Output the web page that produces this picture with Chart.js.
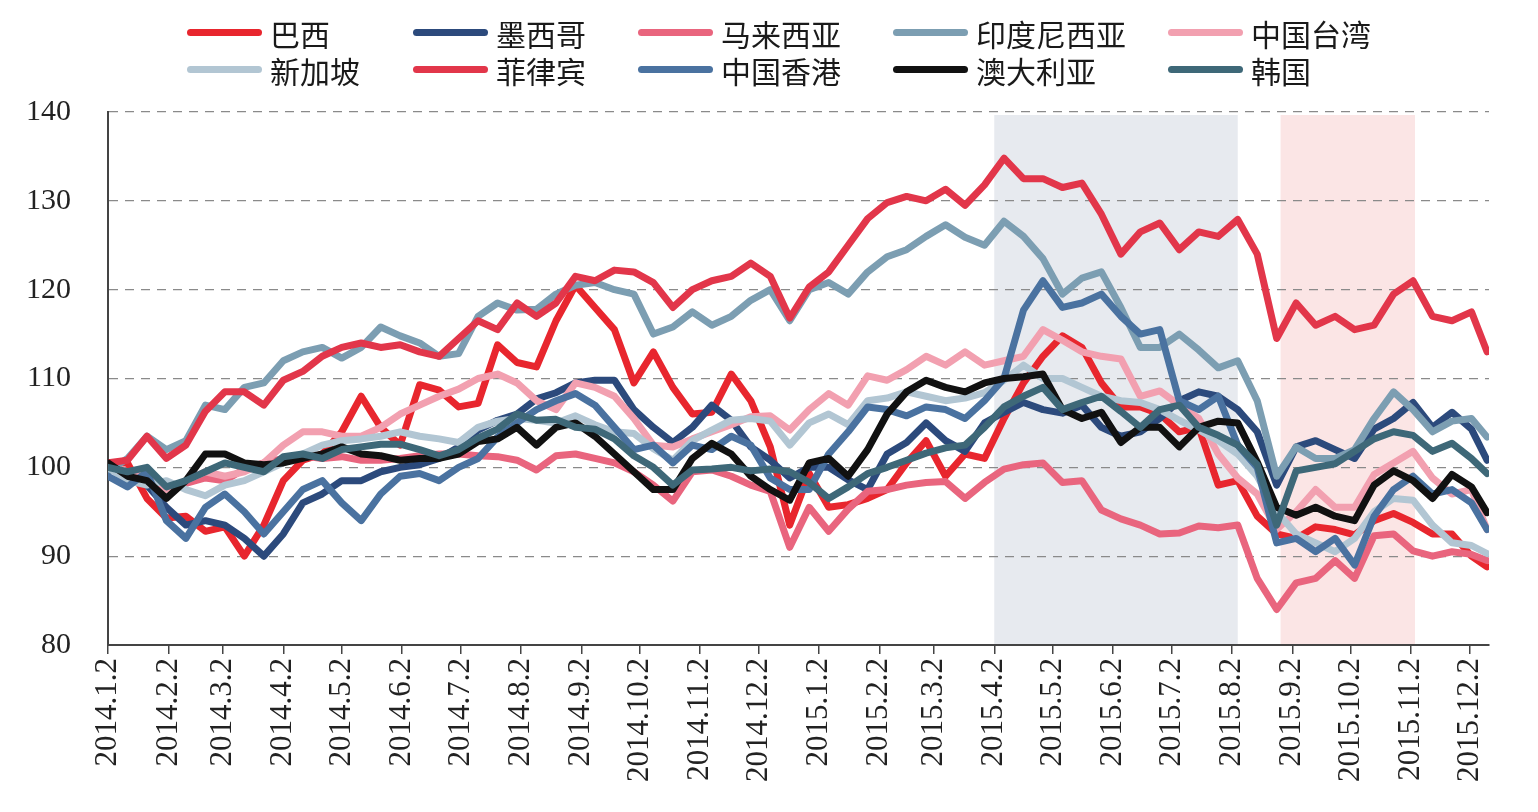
<!DOCTYPE html>
<html>
<head>
<meta charset="utf-8">
<script src="https://cdn.jsdelivr.net/npm/chart.js@4.4.1/dist/chart.umd.min.js"></script>
<style>
  html, body { margin: 0; padding: 0; background: #fff; }
  #wrap { position: relative; width: 1538px; height: 812px; overflow: hidden; }
  #chart { position: absolute; left: 0; top: 0; }
  #legend {
    position: absolute; left: 187px; top: 14px;
    display: grid; grid-template-columns: 226px 225px 255px 275px 220px;
    font-family: "Noto Sans CJK SC", sans-serif; font-size: 30px; color: #1a1a1a;
  }
  .item { display: flex; align-items: center; height: 37px; white-space: nowrap; }
  .swatch { width: 75px; height: 7px; border-radius: 4px; margin-right: 8px; }
</style>
</head>
<body>
<div id="wrap">
  <canvas id="chart" width="1538" height="812"></canvas>
  <div id="legend"></div>
</div>
<script>
// days since 2014.1.2 for each sampled reading
var dayOffsets = [0,10,20,30,40,50,60,70,80,90,100,110,120,130,140,150,160,170,180,190,
  200,210,220,230,240,250,260,270,280,290,300,310,320,330,340,350,360,370,380,390,
  400,410,420,430,440,450,460,470,480,490,500,510,520,530,540,550,560,570,580,590,
  600,610,620,630,640,650,660,670,680,690,700,708];

var tickLabels = ['2014.1.2','2014.2.2','2014.3.2','2014.4.2','2014.5.2','2014.6.2','2014.7.2','2014.8.2',
  '2014.9.2','2014.10.2','2014.11.2','2014.12.2','2015.1.2','2015.2.2','2015.3.2','2015.4.2','2015.5.2',
  '2015.6.2','2015.7.2','2015.8.2','2015.9.2','2015.10.2','2015.11.2','2015.12.2'];

var seriesNames = ['巴西','墨西哥','马来西亚','印度尼西亚','中国台湾','新加坡','菲律宾','中国香港','澳大利亚','韩国'];
var seriesColors = ['#E8262E','#2C4A7C','#E9657E','#7C9EB2','#F2A0B0','#B2C6D3','#E2364A','#4A72A0','#111111','#3E6878'];

var brazil = [100.5,100.5,96.5,94.3,94.5,92.8,93.3,90,93.5,98.5,
  100.8,101.5,104,108,104.5,102.5,109.3,108.7,106.8,107.2,
  113.8,111.8,111.3,116.5,120.5,118,115.5,109.5,113,109,
  106,106.2,110.5,107.5,102.3,93.5,99.3,95.5,95.8,96.5,
  97.5,100.5,103,99,101.5,101,105.5,109.5,112.5,114.8,
  113.5,109.5,106.8,106.8,106,104,104.5,98,98.5,94.5,
  92.5,92,93.3,93,92.4,94,94.8,93.8,92.5,92.5,
  90,88.8];
var mexico = [100,99,98,95.5,93.5,94,93.5,92,90,92.5,
  96,97,98.5,98.5,99.5,100,100.3,101,102.3,104.2,
  105.3,106,107.7,108.4,109.5,109.8,109.8,106.5,104.5,102.8,
  104.5,107,105.3,102.3,100.8,98.8,100,100,98.6,97.5,
  101.5,102.8,105,103,101.8,105,106.2,107.3,106.5,106.1,
  107,104.5,103.5,104,105.5,107.5,108.5,108,106.5,104,
  98,102.3,103,102,101,104.3,105.5,107.3,104.5,106.2,
  104.3,100.8];
var malaysia = [100,99.5,98.5,97.8,98.2,98.8,98.5,99.8,100.5,101,
  101.3,101,101.2,100.8,100.8,101,101.3,101.5,101.5,101.3,
  101.2,100.8,99.7,101.3,101.5,101,100.5,99.5,98,96.2,
  99.5,99.7,99,98,97.3,91,95.5,92.8,95.3,97.3,
  97.5,98,98.3,98.4,96.5,98.3,99.8,100.3,100.5,98.3,
  98.5,95.2,94.2,93.5,92.5,92.6,93.4,93.2,93.5,87.5,
  84,87,87.5,89.5,87.5,92.3,92.5,90.6,90,90.5,
  90.2,89.5];
var indonesia = [99.5,101,103.5,102,103,107,106.5,109,109.5,112,
  113,113.5,112.3,113.5,115.8,114.8,114,112.5,112.8,117,
  118.5,117.7,117.8,119.5,120.5,120.8,120,119.5,115,115.8,
  117.5,116,117,118.8,120,116.5,120,120.8,119.5,122,
  123.7,124.5,126,127.3,125.9,125,127.7,126,123.5,119.5,
  121.3,122,118,113.5,113.5,115,113.2,111.2,112,107.5,
  99,102.3,101,101,102,105.5,108.5,106.5,104,105.2,
  105.5,103.4];
var taiwan = [100,99.5,98.8,97.5,98.5,99.5,99,99.5,100.5,102.5,
  104,104,103.5,103.5,104.5,106,107,108,108.8,110,
  110.5,109.5,107.5,106.5,109.5,109,108,105.5,102.5,102.3,
  103.2,104,104.8,105.7,105.8,104.2,106.5,108.3,107,110.3,
  109.8,111,112.5,111.5,113,111.5,112,112.5,115.5,114.3,
  113,112.5,112.2,108,108.6,107,105.5,101.5,98.8,97,
  93,95,97.5,95.5,95.5,99.2,100.5,101.8,98.8,97,
  97.5,93];
var singapore = [100,98.5,98,98.5,97.5,96.8,98,98.5,99.5,100.5,
  101.5,102.5,103,103.2,103.5,104,103.5,103.2,102.8,104.5,
  105.2,105.5,105.3,105,105.8,104.8,104,103.8,102.1,100.8,
  103,104.2,105.3,105.5,105.2,102.5,105,106,104.8,107.5,
  107.8,108.5,108,107.5,107.8,108.4,109.8,111.5,110,110,
  109,108,107.5,107.3,106.5,105.3,104.2,103,101.5,99,
  95,92.5,91.5,90.5,92,95,96.5,96.3,93.5,91.5,
  91.2,90.3];
var philippines = [100.5,100.8,103.5,101,102.5,106.3,108.5,108.5,107,109.8,
  110.8,112.5,113.5,114,113.5,113.8,113,112.5,114.5,116.5,
  115.5,118.5,117,118.5,121.5,121,122.2,122,120.8,118,
  120,121,121.5,123,121.5,116.8,120.3,122,125,128,
  129.8,130.5,130,131.3,129.5,131.8,134.8,132.5,132.5,131.5,
  132,128.5,124,126.5,127.5,124.5,126.5,126,127.9,124,
  114.5,118.5,116,117,115.5,116,119.5,121,117,116.5,
  117.5,113];
var hongkong = [99,97.8,99.5,94,92,95.5,97,95,92.5,95,
  97.5,98.5,96,94,97,99,99.3,98.5,100,101,
  103.4,105,106.5,107.5,108.3,107,104.5,102,102.5,100.5,
  102.5,102,103.5,102.5,98.8,97.5,97.5,101.5,104,106.8,
  106.5,105.8,106.8,106.5,105.5,107.5,110,117.7,121,118,
  118.5,119.5,117,115,115.5,107.5,106.5,108,102.5,100,
  91.5,92,90.5,92,89,94.5,97.5,99,97,97.5,
  96,93];
var australia = [100.5,99,98.5,96.5,98.5,101.5,101.5,100.5,100.3,100.5,
  101,101.5,102.3,101.5,101.3,100.8,101,101,101.5,102.9,
  103.2,104.5,102.5,104.5,105,103.5,101.5,99.5,97.5,97.5,
  101,102.7,101.5,99,97.5,96.3,100.5,101,99,102,
  106,108.5,109.8,109,108.5,109.5,110,110.2,110.5,106.5,
  105.5,106.2,102.8,104.5,104.5,102.3,104.5,105.2,105,100.6,
  95.5,94.6,95.5,94.5,94,98,99.6,98.5,96.5,99.2,
  97.8,94.9];
var korea = [100,99.5,100,97.8,98.5,99.5,100.5,100,99.5,101.2,
  101.5,101,102,102.3,102.6,102.6,102,101.3,102,103.3,
  104.3,106,105.3,105.4,104.5,104.3,103.2,101.3,100,98,
  99.7,99.8,100,99.6,99.8,99.5,98.3,96.5,97.8,99.3,
  100,100.8,101.6,102.2,102.5,104.5,106.8,108,109,106.5,
  107.3,108,106.3,104.5,106.5,107,104.5,103.6,102.5,100.3,
  93.5,99.6,100,100.4,101.8,103.2,104,103.6,101.8,102.7,
  101,99.3];

var seriesValues = [brazil, mexico, malaysia, indonesia, taiwan, singapore, philippines, hongkong, australia, korea];

// shaded periods
var bandStarts = ['2015.4.2', '2015.8.27'];
var bandEnds = ['2015.8.5', '2015.11.4'];
var bandColors = ['#E7EAEF', '#FBE5E5'];

function dayOf(label) {
  var p = label.split('.');
  return Math.round((Date.UTC(+p[0], +p[1] - 1, +p[2]) - Date.UTC(2014, 0, 2)) / 86400000);
}
var tickDays = tickLabels.map(dayOf);
var labelAt = {};
tickDays.forEach(function(d, i) { labelAt[d] = tickLabels[i]; });

var datasets = seriesNames.map(function(name, i) {
  return {
    label: name,
    data: seriesValues[i].map(function(v, j) { return { x: dayOffsets[j], y: v }; }),
    borderColor: seriesColors[i],
    backgroundColor: seriesColors[i],
    borderWidth: 7,
    borderJoinStyle: 'round',
    borderCapStyle: 'round',
    pointRadius: 0,
    tension: 0,
    order: seriesNames.length - i
  };
});

var bandPlugin = {
  id: 'bands',
  beforeDraw: function(chart) {
    var ctx = chart.ctx, area = chart.chartArea, x = chart.scales.x;
    ctx.save();
    bandStarts.forEach(function(s, i) {
      var x1 = x.getPixelForValue(dayOf(s));
      var x2 = x.getPixelForValue(dayOf(bandEnds[i]));
      ctx.fillStyle = bandColors[i];
      ctx.fillRect(x1, area.top + 3, x2 - x1, area.bottom - area.top - 3);
    });
    ctx.restore();
  }
};

var serif = '"Liberation Serif", "Times New Roman", serif';

new Chart(document.getElementById('chart'), {
  type: 'line',
  data: { datasets: datasets },
  options: {
    responsive: false,
    animation: false,
    devicePixelRatio: 1,
    layout: { padding: { top: 112, right: 49, left: 0, bottom: 0 } },
    plugins: { legend: { display: false }, tooltip: { enabled: false } },
    scales: {
      x: {
        type: 'linear', min: 0, max: 709,
        afterBuildTicks: function(s) { s.ticks = tickDays.map(function(v) { return { value: v }; }); },
        afterFit: function(s) { s.height = 167; },
        ticks: {
          autoSkip: false, maxRotation: 90, minRotation: 90, padding: 4, color: '#222',
          font: { family: serif, size: 31 },
          callback: function(v) { return labelAt[v]; }
        },
        grid: { drawOnChartArea: false, drawTicks: true, tickLength: 9, color: '#444', lineWidth: 1.5 },
        border: { color: '#444', width: 2 }
      },
      y: {
        min: 80, max: 140,
        afterFit: function(s) { s.width = 108; },
        ticks: { stepSize: 10, padding: 37, color: '#222', font: { family: serif, size: 30 } },
        grid: {
          drawTicks: false, lineWidth: 1.3,
          color: function(c) { return c.tick && c.tick.value === 80 ? 'rgba(0,0,0,0)' : '#8a8a8a'; }
        },
        border: { color: '#444', width: 2, dash: [9, 7] }
      }
    }
  },
  plugins: [bandPlugin]
});

// legend, two rows of five
var legend = document.getElementById('legend');
seriesNames.forEach(function(name, i) {
  var item = document.createElement('div');
  item.className = 'item';
  var sw = document.createElement('span');
  sw.className = 'swatch';
  sw.style.background = seriesColors[i];
  item.appendChild(sw);
  item.appendChild(document.createTextNode(name));
  legend.appendChild(item);
});
</script>
</body>
</html>
